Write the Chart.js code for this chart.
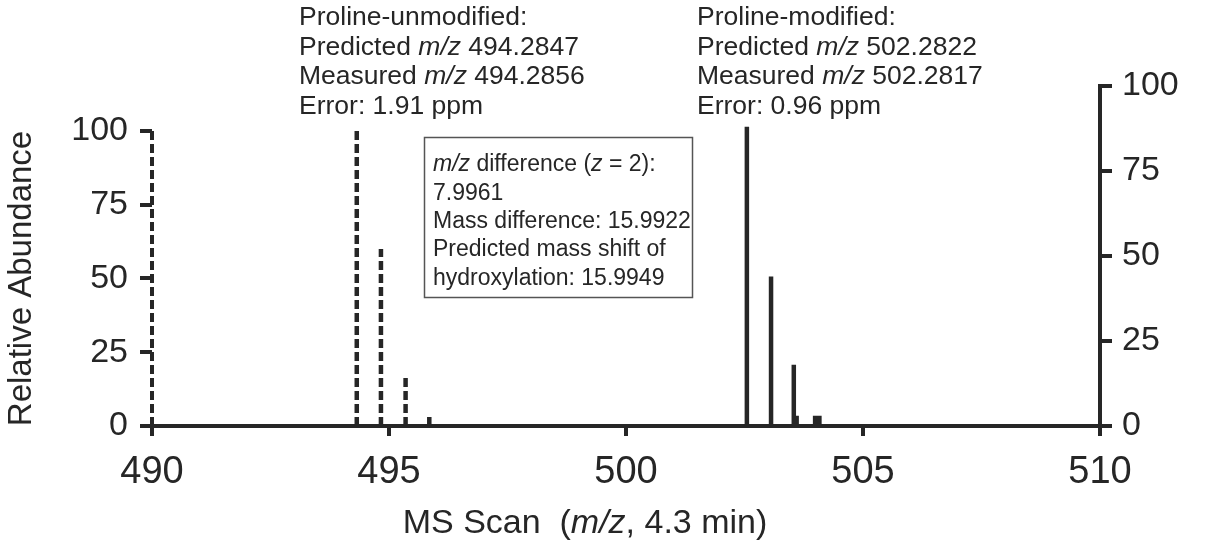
<!DOCTYPE html>
<html>
<head>
<meta charset="utf-8">
<script src="https://cdn.jsdelivr.net/npm/chart.js@4.4.1/dist/chart.umd.min.js"></script>
<style>
  html, body { margin: 0; padding: 0; background: #fff; }
  #wrap { width: 1207px; height: 548px; position: relative; }
</style>
</head>
<body>
<div id="wrap"><canvas id="msChart"></canvas></div>
<script>
// m/z positions and relative abundances
var unmodMz = [494.32, 494.83, 495.35, 495.85];
var unmodAbund = [100, 60, 17, 4];
var modMz = [502.55, 503.06, 503.54, 503.60, 503.99, 504.08];
var modAbund = [88, 44, 18, 3, 3, 3];

var mzTicks = [490, 495, 500, 505, 510];
var abundTicks = [0, 25, 50, 75, 100];

var FONT = "'Liberation Sans', Arial, sans-serif";
var INK = '#262626';

// turn peak lists into stick segments (null y breaks the line)
function sticks(mz, ab) {
    var pts = [];
    mz.forEach(function (m, i) {
        pts.push({ x: m, y: 0 });
        pts.push({ x: m, y: ab[i] });
        pts.push({ x: m, y: null });
    });
    return pts;
}

// draw a line of text made of plain / italic pieces
function drawRich(ctx, parts, x, y, size) {
    ctx.textBaseline = 'middle';
    ctx.textAlign = 'left';
    parts.forEach(function (p) {
        ctx.font = (p[1] ? 'italic ' : '') + size + 'px ' + FONT;
        ctx.fillText(p[0], x, y);
        x += ctx.measureText(p[0]).width;
    });
}

function richWidth(ctx, parts, size) {
    var w = 0;
    parts.forEach(function (p) {
        ctx.font = (p[1] ? 'italic ' : '') + size + 'px ' + FONT;
        w += ctx.measureText(p[0]).width;
    });
    return w;
}

var annotations = {
    id: 'annotations',
    afterDraw: function (chart) {
        var ctx = chart.ctx;
        var yL = chart.scales.yL;
        ctx.save();
        ctx.fillStyle = INK;
        ctx.strokeStyle = INK;

        // dashed left axis, only up to 100
        ctx.lineWidth = 4;
        ctx.setLineDash([9, 4]);
        ctx.beginPath();
        ctx.moveTo(chart.chartArea.left, yL.getPixelForValue(0));
        ctx.lineTo(chart.chartArea.left, yL.getPixelForValue(100));
        ctx.stroke();
        ctx.setLineDash([]);

        // peak labels
        var lh = 29.5;
        var left = [
            [['Proline-unmodified:', false]],
            [['Predicted ', false], ['m/z', true], [' 494.2847', false]],
            [['Measured ', false], ['m/z', true], [' 494.2856', false]],
            [['Error: 1.91 ppm', false]]
        ];
        var right = [
            [['Proline-modified:', false]],
            [['Predicted ', false], ['m/z', true], [' 502.2822', false]],
            [['Measured ', false], ['m/z', true], [' 502.2817', false]],
            [['Error: 0.96 ppm', false]]
        ];
        left.forEach(function (l, i) { drawRich(ctx, l, 299, 18 + i * lh, 26.5); });
        right.forEach(function (l, i) { drawRich(ctx, l, 697, 18 + i * lh, 26.5); });

        // difference box
        ctx.lineWidth = 1.5;
        ctx.strokeStyle = '#555';
        ctx.strokeRect(424.5, 137.5, 268, 160);
        var box = [
            [['m/z', true], [' difference (', false], ['z', true], [' = 2):', false]],
            [['7.9961', false]],
            [['Mass difference: 15.9922', false]],
            [['Predicted mass shift of', false]],
            [['hydroxylation: 15.9949', false]]
        ];
        box.forEach(function (l, i) { drawRich(ctx, l, 433, 165 + i * 28.3, 23); });

        // axis titles
        ctx.save();
        ctx.translate(22, (yL.getPixelForValue(0) + yL.getPixelForValue(100)) / 2);
        ctx.rotate(-Math.PI / 2);
        ctx.font = '33px ' + FONT;
        ctx.textAlign = 'center';
        ctx.textBaseline = 'middle';
        ctx.fillText('Relative Abundance', 0, 0);
        ctx.restore();

        var xt = [['MS Scan  (', false], ['m/z', true], [', 4.3 min)', false]];
        var w = richWidth(ctx, xt, 34);
        drawRich(ctx, xt, 585 - w / 2, 524, 34);

        ctx.restore();
    }
};

var ctx = document.getElementById('msChart').getContext('2d');
var msChart = new Chart(ctx, {
    type: 'line',
    data: {
        datasets: [
            {
                label: 'Proline-unmodified',
                data: sticks(unmodMz, unmodAbund),
                yAxisID: 'yL',
                borderColor: INK,
                borderWidth: 4.5,
                borderDash: [9, 4],
                borderCapStyle: 'butt',
                pointRadius: 0,
                spanGaps: false
            },
            {
                label: 'Proline-modified',
                data: sticks(modMz, modAbund),
                yAxisID: 'yR',
                borderColor: INK,
                borderWidth: 4.5,
                borderCapStyle: 'butt',
                pointRadius: 0,
                spanGaps: false
            }
        ]
    },
    options: {
        responsive: true,
        maintainAspectRatio: false,
        animation: false,
        layout: { padding: { top: 86, left: 0, right: 0, bottom: 0 } },
        plugins: { legend: { display: false }, tooltip: { enabled: false } },
        scales: {
            x: {
                type: 'linear',
                min: 490,
                max: 510,
                afterBuildTicks: function (s) { s.ticks = mzTicks.map(function (v) { return { value: v }; }); },
                afterFit: function (s) { s.height = 122; },
                border: { color: INK, width: 4 },
                grid: { drawOnChartArea: false, tickLength: 10, lineWidth: 4, color: INK },
                ticks: { color: INK, font: { family: FONT, size: 38 }, padding: 14, maxRotation: 0 }
            },
            yL: {
                position: 'left',
                min: 0,
                max: 115.25,
                afterBuildTicks: function (s) { s.ticks = abundTicks.map(function (v) { return { value: v }; }); },
                afterFit: function (s) { s.width = 152; },
                border: { display: false },
                grid: { drawOnChartArea: false, tickLength: 12, lineWidth: 4, color: INK },
                ticks: { color: INK, font: { family: FONT, size: 34 }, padding: 12 }
            },
            yR: {
                position: 'right',
                min: 0,
                max: 100,
                afterBuildTicks: function (s) { s.ticks = abundTicks.map(function (v) { return { value: v }; }); },
                afterFit: function (s) { s.width = 107; },
                border: { color: INK, width: 4 },
                grid: { drawOnChartArea: false, tickLength: 12, lineWidth: 4, color: INK },
                ticks: { color: INK, font: { family: FONT, size: 34 }, padding: 10 }
            }
        }
    },
    plugins: [annotations]
});
</script>
</body>
</html>
